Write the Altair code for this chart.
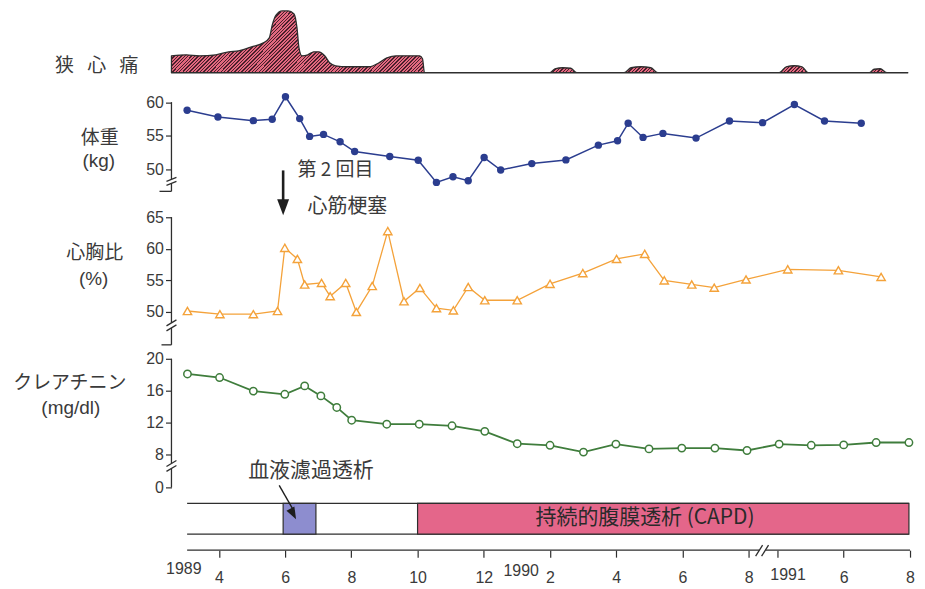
import altair as alt
import pandas as pd

# ---------------- data (x = position on the time axis, in months:
# 3 = Apr 1989, 13 = Feb 1990, 19 = Aug 1990; after the axis break 19.87 = Apr 1991, 23.87 = Aug 1991)
ANG_T = [1.567, 2.015, 2.403, 2.910, 3.299, 3.597, 3.985, 4.343, 4.522, 4.612, 4.731, 4.910,
         5.090, 5.269, 5.358, 5.418, 5.507, 5.687, 5.866, 6.015, 6.194, 6.343, 6.522, 6.881,
         7.537, 7.836, 8.075, 8.373, 8.821, 9.060, 9.149, 9.209,
         13.0, 13.149, 13.388, 13.627, 13.806,
         15.239, 15.448, 15.746, 16.045, 16.254,
         19.925, 20.134, 20.373, 20.612, 20.791,
         22.642, 22.791, 22.970, 23.179, 23.806]
ANG_V = [17, 18, 17, 18, 21, 22, 26, 30, 35, 48, 58, 62,
         62, 59, 45, 25, 17, 18, 21, 21, 17, 10, 7, 6,
         6, 10, 15, 17, 17, 17, 14, 0,
         0, 4, 5, 4.5, 0,
         0, 5, 6, 5, 0,
         0, 6, 7, 6, 0,
         0, 3.5, 4, 0, 0]

WEIGHT_T = [2.04, 2.97, 4.04, 4.61, 5.01, 5.44, 5.74, 6.16, 6.66, 7.10, 8.16, 9.02, 9.57, 10.07,
            10.53, 11.01, 11.51, 12.45, 13.48, 14.46, 15.04, 15.36, 15.81, 16.41, 17.41, 18.42,
            19.42, 20.38, 21.29, 22.40]
WEIGHT_KG = [58.8, 57.8, 57.25, 57.45, 60.8, 57.55, 54.9, 55.2, 54.1, 52.65, 51.9, 51.35, 48.05, 48.9,
             48.3, 51.75, 49.9, 50.85, 51.4, 53.6, 54.25, 56.85, 54.75, 55.35, 54.65, 57.2,
             56.95, 59.65, 57.2, 56.85]

CTR_T = [2.05, 3.03, 4.04, 4.77, 4.99, 5.37, 5.59, 6.10, 6.36, 6.83, 7.15, 7.63, 8.10, 8.59, 9.07,
         9.57, 10.08, 10.53, 11.03, 12.01, 13.00, 13.99, 15.01, 15.86, 16.45, 17.28, 17.96, 18.92,
         20.18, 21.71, 23.0]
CTR_PCT = [50.15, 49.65, 49.65, 50.15, 60.15, 58.4, 54.35, 54.6, 52.5, 54.6, 50.0, 54.1, 62.8, 51.7, 53.8,
           50.6, 50.25, 53.95, 51.85, 51.85, 54.45, 56.15, 58.4, 59.2, 55.0, 54.35, 53.85, 55.15,
           56.75, 56.6, 55.55]

CR_T = [2.05, 3.02, 4.04, 4.99, 5.59, 6.08, 6.56, 7.01, 8.07, 9.05, 10.04, 11.03, 12.01, 13.00,
        14.01, 14.99, 15.99, 16.98, 17.98, 18.95, 19.92, 20.89, 21.87, 22.85, 23.84]
CR_MG = [18.1, 17.65, 15.95, 15.55, 16.6, 15.35, 13.9, 12.3, 11.8, 11.8, 11.6, 10.9, 9.35, 9.15,
         8.3, 9.3, 8.7, 8.8, 8.8, 8.5, 9.3, 9.15, 9.2, 9.5, 9.5]

TREAT_NAME = ["血液濾過透析", "持続的腹膜透析 (CAPD)"]
TREAT_START = [4.94, 9.0]
TREAT_END = [5.93, 23.84]

TICK_T = [3, 5, 7, 9, 11, 13, 15, 17, 19, 19.87, 21.87, 23.87]
TICK_LABEL = ["4", "6", "8", "10", "12", "2", "4", "6", "8", "", "6", "8"]
YEAR_T = [1.94, 12.13, 20.19]
YEAR_TEXT = ["1989", "1990", "1991"]

# ---------------- style
NAVY = "#2b3d8f"
ORANGE = "#f4a23a"
GREEN = "#3f7d3c"
INK = "#2e2e2e"
TXT = "#3a3a3a"
PINK_A = "#e2687f"
HATCH = "#4a1f2b"
BLUE_B = "#8d8dcf"
PINK_B = "#e4668a"
JP = "Noto Sans CJK JP"
NUM = "Liberation Sans"

W = 741
XS = alt.Scale(domain=[1.567, 23.873], nice=False, zero=False)
ONE = pd.DataFrame({"k": [0]})
NOAX = "none"


def _ax(ax):
    return None if ax is NOAX else ax


def xf(f, ax=NOAX):
    return alt.X(f, type="quantitative", scale=XS, axis=_ax(ax))


def xd(v, ax=NOAX):
    return alt.XDatum(datum=v, type="quantitative", scale=XS, axis=_ax(ax))


def label(txt, x, y, size=19, font=JP, color=TXT):
    return alt.Chart(ONE).mark_text(text=txt, font=font, fontSize=size, color=color,
                                    align="center", baseline="middle").encode(
        x=alt.value(x), y=alt.value(y))


def dlabel(txt, xv, y, size=19, font=JP, color=TXT, ax=NOAX):
    return alt.Chart(ONE).mark_text(text=txt, font=font, fontSize=size, color=color,
                                    align="center", baseline="middle").encode(
        x=xd(xv, ax), y=alt.value(y))


def yaxis(values, expr=None):
    kw = dict(values=values, domain=False, grid=False, ticks=True, tickSize=6, tickColor=INK,
              tickWidth=1.2, labelFont=NUM, labelFontSize=16, labelColor=TXT, labelPadding=2,
              title=None)
    if expr:
        kw["labelExpr"] = expr
    return alt.Axis(**kw)


def axis_parts(ysc, yax, seg, brk, bottom=None, blen=12):
    seg_df = pd.DataFrame({"a": seg[0], "b": seg[1]})
    brk_df = pd.DataFrame({"a": brk[0], "b": brk[1]})
    parts = [
        alt.Chart(seg_df).mark_rule(color=INK, strokeWidth=1.3).encode(
            x=alt.value(0), y=alt.Y("a:Q", scale=ysc, axis=yax), y2="b"),
        alt.Chart(brk_df).mark_rule(color=INK, strokeWidth=1.3).encode(
            x=alt.value(-5), x2=alt.value(5), y=alt.Y("a:Q", scale=ysc, axis=yax), y2="b"),
    ]
    if bottom is not None:
        parts.append(alt.Chart(ONE).mark_rule(color=INK, strokeWidth=1.3).encode(
            x=alt.value(-blen), x2=alt.value(0),
            y=alt.YDatum(datum=bottom, type="quantitative", scale=ysc, axis=yax)))
    return parts


# ---------------- hatch pattern for the angina area
N = 236
stops = []
for k in range(N):
    a, b, c = round(k / N, 5), round((k + 0.6) / N, 5), round((k + 1) / N, 5)
    stops += [{"offset": a, "color": PINK_A}, {"offset": b, "color": PINK_A},
              {"offset": b, "color": HATCH}, {"offset": c, "color": HATCH}]
hatch = {"gradient": "linear", "x1": 0, "y1": 0, "x2": 1.1, "y2": 0.0917, "stops": stops}

# ---------------- panel A: angina
ang_df = pd.DataFrame({"t": ANG_T, "v": ANG_V})
ysA = alt.Scale(domain=[0, 62], nice=False, zero=False)
A = alt.layer(
    alt.Chart(ang_df).mark_area(interpolate="monotone", fill=hatch, stroke=INK, strokeWidth=1.3,
                                strokeJoin="round").encode(
        x=xf("t"), y=alt.Y("v:Q", scale=ysA, axis=None)),
    label("狭\u2002\u2009心\u2002\u2009痛", -75, 55),
).properties(width=W, height=62)

# ---------------- panel B: body weight
ysB = alt.Scale(domain=[46.72, 64.38], nice=False, zero=False)
axB = yaxis([50, 55, 60])
w_df = pd.DataFrame({"t": WEIGHT_T, "v": WEIGHT_KG})
B = alt.layer(
    alt.Chart(w_df).mark_line(color=NAVY, strokeWidth=1.5).encode(
        x=xf("t"), y=alt.Y("v:Q", scale=ysB, axis=axB)),
    alt.Chart(w_df).mark_circle(color=NAVY, size=55, opacity=1).encode(
        x=xf("t"), y=alt.Y("v:Q", scale=ysB, axis=axB)),
    *axis_parts(ysB, axB, ([60, 47.91], [48.50, 46.72]), ([48.20, 47.61], [48.80, 48.20]), 46.72, 12),
    label("体重", -72, 65),
    label("(kg)", -73, 89, size=19, font=NUM),
    dlabel("第 2 回目", 6.52, 98),
).properties(width=W, height=119)

# ---------------- panel C: cardiothoracic ratio
ysC = alt.Scale(domain=[44.79, 69.1], nice=False, zero=False)
axC = yaxis([50, 55, 60, 65])
c_df = pd.DataFrame({"t": CTR_T, "v": CTR_PCT})
C = alt.layer(
    alt.Chart(c_df).mark_line(color=ORANGE, strokeWidth=1.3).encode(
        x=xf("t"), y=alt.Y("v:Q", scale=ysC, axis=axC)),
    alt.Chart(c_df).mark_point(shape="triangle-up", filled=True, fill="white", stroke=ORANGE,
                               strokeWidth=1.4, size=70, opacity=1).encode(
        x=xf("t"), y=alt.Y("v:Q", scale=ysC, axis=axC)),
    *axis_parts(ysC, axC, ([65, 47.47], [48.26, 44.79]), ([47.79, 47.0], [48.74, 47.95]), 44.79, 10),
    label("心胸比", -77, 62),
    label("(%)", -78, 88, size=19, font=NUM),
    alt.Chart(ONE).mark_rule(color="#1e1e1e", strokeWidth=2.6).encode(
        x=xd(4.94), y=alt.value(-21), y2=alt.value(10)),
    alt.Chart(ONE).mark_point(shape="M-0.75,-1L0.75,-1L0,1Z", filled=True, color="#1e1e1e",
                              size=256, opacity=1).encode(x=xd(4.94), y=alt.value(16)),
    dlabel("心筋梗塞", 6.88, 16, size=20),
).properties(width=W, height=154)

# ---------------- panel D: creatinine
ysD = alt.Scale(domain=[3.875, 21.75], nice=False, zero=False)
axD = yaxis([3.875, 8, 12, 16, 20], "datum.value < 5 ? '0' : datum.label")
r_df = pd.DataFrame({"t": CR_T, "v": CR_MG})
D = alt.layer(
    alt.Chart(r_df).mark_line(color=GREEN, strokeWidth=1.8).encode(
        x=xf("t"), y=alt.Y("v:Q", scale=ysD, axis=axD)),
    alt.Chart(r_df).mark_point(shape="circle", filled=True, fill="white", stroke=GREEN,
                               strokeWidth=1.5, size=55, opacity=1).encode(
        x=xf("t"), y=alt.Y("v:Q", scale=ysD, axis=axD)),
    *axis_parts(ysD, axD, ([20, 6.25], [6.875, 3.875]), ([6.5, 5.875], [7.25, 6.625])),
    label("クレアチニン", -102, 38),
    label("(mg/dl)", -101, 63, size=19, font=NUM),
    dlabel("血液濾過透析", 5.78, 127, size=21),
    alt.Chart(ONE).mark_rule(strokeOpacity=0).encode(x=alt.value(-163), y=alt.value(0), y2=alt.value(10)),
).properties(width=W, height=143)

# ---------------- panel E: treatment and time axis
expr = " : ".join(f"datum.value == {v} ? '{l}'" for v, l in zip(TICK_T, TICK_LABEL)) + " : ''"
axE = alt.Axis(values=TICK_T, labelExpr=expr, domain=False, grid=False, tickSize=7, tickColor=INK,
               tickWidth=1.2, labelFont=NUM, labelFontSize=16, labelColor=TXT, labelPadding=12,
               labelFlush=False, labelOverlap=False, title=None, orient="bottom")
tr_df = pd.DataFrame({"name": TREAT_NAME, "s": TREAT_START, "e": TREAT_END})
frame_df = pd.DataFrame({"s": [2.04], "e": [23.84]})
axline_df = pd.DataFrame({"s": [2.04, 19.51], "e": [19.33, 23.873]})
xbrk_df = pd.DataFrame({"s": [19.21, 19.39], "e": [19.42, 19.60]})

E_layers = [
    alt.Chart(frame_df).mark_rule(color=INK, strokeWidth=1.2).encode(
        x=xf("s", axE), x2="e", y=alt.value(16)),
    alt.Chart(frame_df).mark_rule(color=INK, strokeWidth=1.2).encode(
        x=xf("s", axE), x2="e", y=alt.value(47)),
    alt.Chart(tr_df).mark_rect(stroke=INK, strokeWidth=1.2).encode(
        x=xf("s", axE), x2="e", y=alt.value(16), y2=alt.value(47),
        color=alt.Color("name:N", scale=alt.Scale(domain=TREAT_NAME, range=[BLUE_B, PINK_B]), legend=None)),
    alt.Chart(axline_df).mark_rule(color=INK, strokeWidth=1.3).encode(
        x=xf("s", axE), x2="e", y=alt.value(63)),
    alt.Chart(xbrk_df).mark_rule(color=INK, strokeWidth=1.3).encode(
        x=xf("s", axE), x2="e", y=alt.value(69), y2=alt.value(58)),
    dlabel("持続的腹膜透析 (CAPD)", 15.87, 31, size=21, color="#2a2a2a", ax=axE),
    alt.Chart(ONE).mark_rule(color="#1e1e1e", strokeWidth=1.4).encode(
        x=xd(4.821, axE), x2=alt.X2Datum(datum=5.27), y=alt.value(-2), y2=alt.value(24)),
    alt.Chart(ONE).mark_point(shape="M-0.75,-1L0.75,-1L0,1Z", filled=True, color="#1e1e1e",
                              size=144, angle=332, opacity=1).encode(x=xd(5.245, axE), y=alt.value(26.7)),
]
for t, txt, yy in zip(YEAR_T, YEAR_TEXT, [81.5, 83.5, 88]):
    E_layers.append(dlabel(txt, t, yy, size=16, font=NUM, ax=axE))
E = alt.layer(*E_layers).properties(width=W, height=63)

chart = alt.vconcat(A, B, C, D, E, spacing=0, bounds="flush").resolve_scale(
    y="independent", color="independent"
).properties(
    padding={"left": 0, "top": 0, "right": 0, "bottom": 0}
).configure_view(stroke="transparent")

chart.save("out.html", embed_options={"renderer": "svg", "actions": False})
